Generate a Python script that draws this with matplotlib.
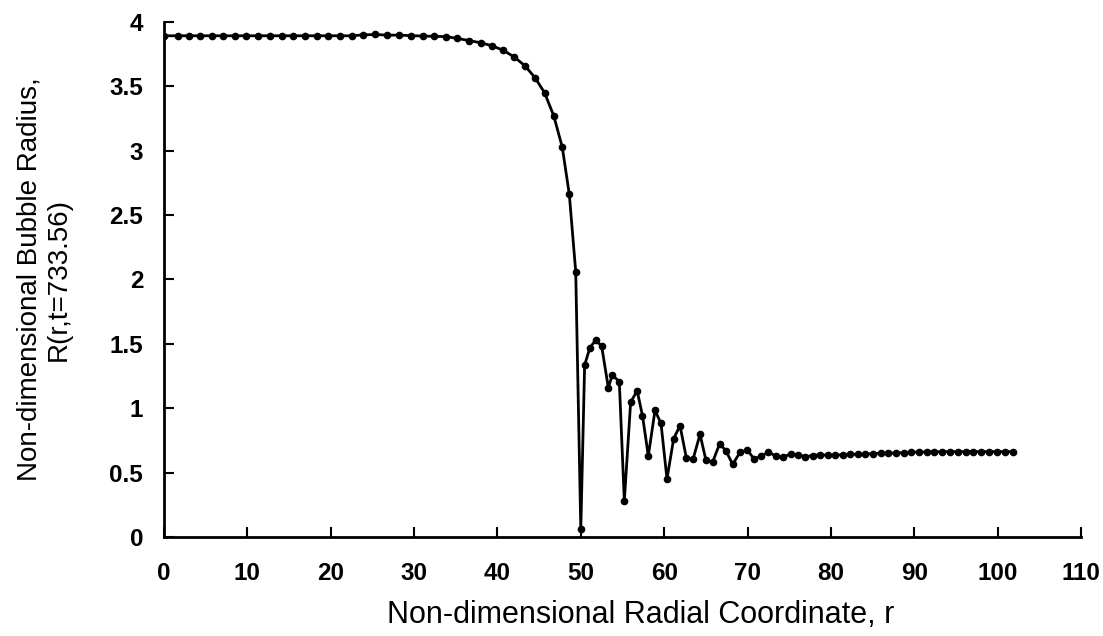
import matplotlib
matplotlib.use("Agg")
import matplotlib.pyplot as plt

# radial grid points (non-uniform, refined around the front near r = 50)
r = [0.0, 1.64, 3.0, 4.32, 5.72, 7.12, 8.52, 9.88, 11.24, 12.72, 14.12, 15.51,
     16.91, 18.31, 19.71, 21.11, 22.51, 23.91, 25.35, 26.79, 28.23, 29.63,
     31.03, 32.43, 33.83, 35.19, 36.63, 38.0, 39.37, 40.71, 42.02, 43.3, 44.5,
     45.65, 46.75, 47.78, 48.62, 49.39,
     50.0, 50.46, 51.1, 51.78, 52.5, 53.3, 53.78, 54.62, 55.22, 55.98, 56.76,
     57.4, 58.1, 58.9, 59.62, 60.34, 61.14, 61.9, 62.66, 63.46, 64.3, 65.02,
     65.82, 66.66, 67.42, 68.22, 69.1, 69.98, 70.78, 71.66, 72.5, 73.38, 74.22,
     75.18, 76.02, 76.9, 77.81, 78.7, 79.61, 80.49, 81.41, 82.29, 83.21, 84.13,
     85.05, 85.97, 86.89, 87.81, 88.73, 89.65, 90.57, 91.49, 92.41, 93.37,
     94.29, 95.25, 96.17, 97.09, 98.05, 99.01, 99.97, 100.89, 101.81]

# bubble radius R(r, t=733.56)
R = [3.893, 3.893, 3.893, 3.893, 3.893, 3.893, 3.893, 3.893, 3.893, 3.893,
     3.893, 3.893, 3.893, 3.893, 3.893, 3.893, 3.893, 3.900, 3.903, 3.898,
     3.898, 3.894, 3.891, 3.889, 3.886, 3.873, 3.855, 3.839, 3.815, 3.780,
     3.728, 3.660, 3.568, 3.451, 3.272, 3.027, 2.662, 2.061,
     0.060, 1.336, 1.471, 1.529, 1.483, 1.161, 1.257, 1.207, 0.280, 1.047,
     1.136, 0.942, 0.630, 0.983, 0.883, 0.450, 0.764, 0.865, 0.616, 0.603,
     0.797, 0.595, 0.583, 0.725, 0.668, 0.564, 0.658, 0.676, 0.606, 0.627,
     0.660, 0.629, 0.619,
     0.645, 0.640, 0.624, 0.632, 0.640, 0.634, 0.634, 0.640, 0.642, 0.642,
     0.645, 0.647, 0.650, 0.652, 0.652, 0.655, 0.658, 0.660, 0.660, 0.660,
     0.663, 0.663, 0.663, 0.663, 0.663, 0.663, 0.663, 0.663, 0.663, 0.663]

x_ticks = [0, 10, 20, 30, 40, 50, 60, 70, 80, 90, 100, 110]
y_ticks = [0, 0.5, 1, 1.5, 2, 2.5, 3, 3.5, 4]
y_ticklabels = ['0', '0.5', '1', '1.5', '2', '2.5', '3', '3.5', '4']

plt.rcParams['font.family'] = ['Liberation Sans', 'DejaVu Sans']

fig = plt.figure(figsize=(11.03, 6.36), dpi=100)
ax = fig.add_axes([0.1487, 0.1557, 0.8313, 0.8097])

ax.plot(r, R, color='black', lw=2.0, marker='o', markersize=4.5,
        markerfacecolor='black', markeredgecolor='black')

ax.set_xlim(0, 110)
ax.set_ylim(0, 4)
ax.set_xticks(x_ticks)
ax.set_yticks(y_ticks)
ax.set_yticklabels(y_ticklabels)

for side in ['top', 'right']:
    ax.spines[side].set_visible(False)
for side in ['left', 'bottom']:
    ax.spines[side].set_linewidth(2)

ax.tick_params(axis='x', direction='in', length=7, width=1.5, pad=18,
               labelsize=17.5)
ax.tick_params(axis='y', direction='in', length=7, width=1.5, pad=15,
               labelsize=17.5)
for lab in ax.get_xticklabels() + ax.get_yticklabels():
    lab.set_fontweight('bold')

ax.set_xlabel('Non-dimensional Radial Coordinate, r', fontsize=22)
ax.xaxis.set_label_coords(0.52, -0.122)
ax.set_ylabel('Non-dimensional Bubble Radius,\nR(r,t=733.56)', fontsize=20,
              labelpad=27, linespacing=1.15)

fig.savefig('out.png', dpi=100)
